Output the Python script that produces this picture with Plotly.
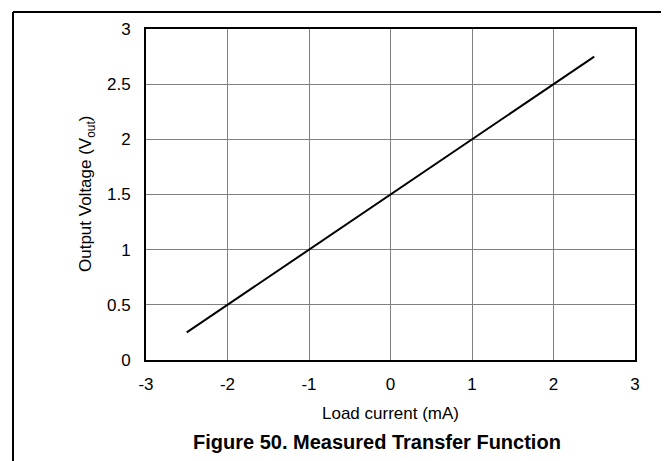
import plotly.graph_objects as go

# --------------------------------------------------
# Data
# --------------------------------------------------

load_current = [-2.5, -2, -1, 0, 1, 2, 2.5]
output_voltage = [0.25, 0.5, 1.0, 1.5, 2.0, 2.5, 2.75]

x_ticks = [-3, -2, -1, 0, 1, 2, 3]
y_ticks = [0, 0.5, 1, 1.5, 2, 2.5, 3]

x_title = "Load current (mA)"
y_title = "Output Voltage (V<sub>out</sub>)"
caption = "<b>Figure 50. Measured Transfer Function</b>"

# plot area in pixels: x 138..627, y 21..352
W, H = 669, 461
L, R, T, B = 138, 42, 21, 109
PW, PH = W - L - R, H - T - B


def px(x):
    return (x - L) / PW


def py(y):
    return (H - B - y) / PH


FONT = "Liberation Sans, Arial, sans-serif"

fig = go.Figure()

fig.add_trace(go.Scatter(
    x=load_current,
    y=output_voltage,
    mode="lines",
    line=dict(color="black", width=2),
    showlegend=False,
    hoverinfo="skip"
))

axis_style = dict(
    showgrid=True,
    gridcolor="#808080",
    gridwidth=1,
    zeroline=False,
    showline=True,
    linecolor="black",
    linewidth=2,
    mirror=True,
    ticks="",
    tickfont=dict(size=17, color="black"),
)

fig.update_xaxes(
    range=[-3, 3],
    tickvals=x_ticks,
    ticktext=[str(v) for v in x_ticks],
    ticklabelstandoff=8,
    **axis_style
)

fig.update_yaxes(
    range=[0, 3],
    tickvals=y_ticks,
    ticktext=[f"{v:g}" for v in y_ticks],
    ticklabelstandoff=10,
    **axis_style
)

fig.update_layout(
    width=W,
    height=H,
    margin=dict(l=L, r=R, t=T, b=B),
    paper_bgcolor="white",
    plot_bgcolor="white",
    font=dict(family=FONT, color="black"),
    annotations=[
        dict(text=x_title, xref="paper", yref="paper",
             x=px(382), y=py(405), xanchor="center", yanchor="middle",
             showarrow=False, font=dict(size=17, color="black")),
        dict(text=y_title, xref="paper", yref="paper",
             x=px(79), y=py(186), xanchor="center", yanchor="middle",
             textangle=-90, showarrow=False, font=dict(size=17, color="black")),
        dict(text=caption, xref="paper", yref="paper",
             x=px(369), y=py(434), xanchor="center", yanchor="middle",
             showarrow=False, font=dict(size=20, color="black")),
    ],
    shapes=[
        dict(type="line", xref="paper", yref="paper",
             x0=px(5), x1=px(668), y0=py(4), y1=py(4),
             line=dict(color="black", width=2)),
        dict(type="line", xref="paper", yref="paper",
             x0=px(5), x1=px(5), y0=py(4), y1=py(461),
             line=dict(color="black", width=2)),
    ]
)

fig.write_html("out.html")
